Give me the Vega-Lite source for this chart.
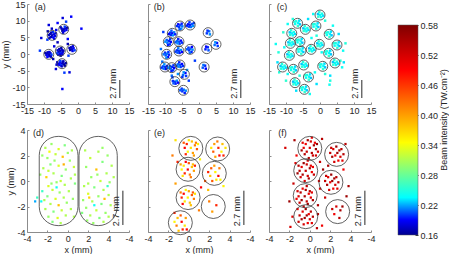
{
"$schema":"https://vega.github.io/schema/vega-lite/v6.json",
"background":"white",
"padding":{"left":1,"right":0,"top":0,"bottom":0},
"config":{
"view":{"stroke":null},
"font":"Liberation Sans",
"locale":{"number":{"decimal":".","thousands":",","grouping":[3],"currency":["$",""],"minus":"-"}},
"axis":{"grid":false,"domainColor":"#8c8c8c","tickColor":"#8c8c8c","tickSize":-2,"labelPadding":4,"labelColor":"#262626","titleColor":"#262626","labelFontSize":9,"titleFontSize":9,"titleFontWeight":"normal","labelFlush":false,"labelOverlap":false},
"axisX":{"titlePadding":2},
"axisY":{"titlePadding":1},
"text":{"font":"Liberation Sans","fontSize":9,"color":"#262626"}
},
"datasets":{
"a":[{"x":-7.6,"y":5.6,"v":0.17},{"x":-7.1,"y":5.9,"v":0.18},{"x":-8.2,"y":6.0,"v":0.175},{"x":-7.3,"y":5.0,"v":0.19},{"x":-8.0,"y":5.1,"v":0.165},{"x":-6.7,"y":5.4,"v":0.185},{"x":-8.6,"y":5.7,"v":0.172},{"x":-7.4,"y":6.6,"v":0.2},{"x":-7.9,"y":6.4,"v":0.17},{"x":-6.6,"y":6.2,"v":0.18},{"x":-8.4,"y":4.8,"v":0.175},{"x":-7.0,"y":4.6,"v":0.19},{"x":-8.9,"y":6.8,"v":0.165},{"x":-6.4,"y":7.2,"v":0.185},{"x":-7.7,"y":7.6,"v":0.172},{"x":-9.0,"y":4.3,"v":0.2},
{"x":-4.2,"y":7.4,"v":0.17},{"x":-3.7,"y":7.7,"v":0.18},{"x":-4.8,"y":7.6,"v":0.175},{"x":-4.0,"y":6.9,"v":0.19},{"x":-4.6,"y":7.0,"v":0.165},{"x":-3.4,"y":7.2,"v":0.185},{"x":-5.1,"y":8.0,"v":0.172},{"x":-3.9,"y":8.2,"v":0.2},{"x":-3.2,"y":7.9,"v":0.17},{"x":-4.4,"y":6.4,"v":0.18},
{"x":-1.8,"y":1.4,"v":0.175},{"x":-1.3,"y":1.7,"v":0.19},{"x":-2.3,"y":1.2,"v":0.165},{"x":-1.6,"y":0.9,"v":0.185},{"x":-2.0,"y":2.0,"v":0.172},{"x":-1.0,"y":1.1,"v":0.2},{"x":-2.5,"y":1.8,"v":0.17},{"x":-1.5,"y":2.3,"v":0.18},
{"x":-8.6,"y":-0.1,"v":0.17},{"x":-8.1,"y":0.2,"v":0.18},{"x":-9.1,"y":0.1,"v":0.175},{"x":-8.7,"y":-0.6,"v":0.19},{"x":-8.3,"y":-0.5,"v":0.165},{"x":-9.3,"y":-0.3,"v":0.185},{"x":-8.9,"y":0.5,"v":0.172},{"x":-7.8,"y":-0.2,"v":0.2},{"x":-9.6,"y":0.3,"v":0.17},{"x":-8.4,"y":0.6,"v":0.18},{"x":-8.0,"y":-0.8,"v":0.175},{"x":-9.0,"y":-0.9,"v":0.19},
{"x":-5.2,"y":0.9,"v":0.165},{"x":-4.7,"y":1.2,"v":0.185},{"x":-5.7,"y":0.6,"v":0.172},{"x":-5.0,"y":0.3,"v":0.2},{"x":-5.5,"y":1.5,"v":0.17},{"x":-4.5,"y":0.5,"v":0.18},{"x":-6.0,"y":1.1,"v":0.175},{"x":-5.3,"y":0.0,"v":0.19},{"x":-4.9,"y":1.8,"v":0.165},{"x":-5.8,"y":-0.2,"v":0.185},{"x":-4.3,"y":1.0,"v":0.172},{"x":-6.1,"y":0.2,"v":0.2},{"x":-5.1,"y":-0.5,"v":0.17},{"x":-4.6,"y":-0.1,"v":0.18},
{"x":-4.7,"y":-2.9,"v":0.175},{"x":-5.3,"y":-2.6,"v":0.19},{"x":-4.1,"y":-3.1,"v":0.165},{"x":-5.8,"y":-3.0,"v":0.185},{"x":-4.5,"y":-2.4,"v":0.172},{"x":-5.0,"y":-3.4,"v":0.2},{"x":-3.6,"y":-2.7,"v":0.17},{"x":-6.1,"y":-2.5,"v":0.18},{"x":-4.8,"y":-3.7,"v":0.175},{"x":-5.5,"y":-3.3,"v":0.19},{"x":-3.9,"y":-3.5,"v":0.165},{"x":-6.3,"y":-3.2,"v":0.185},{"x":-4.3,"y":-2.2,"v":0.172},{"x":-5.2,"y":-2.1,"v":0.2},
{"x":-4.5,"y":10.8,"v":0.18},{"x":-2.0,"y":11.2,"v":0.19},{"x":-3.5,"y":9.7,"v":0.2},{"x":1.0,"y":7.6,"v":0.19},{"x":-10.8,"y":4.8,"v":0.18},{"x":-11.2,"y":1.0,"v":0.2},{"x":-6.0,"y":3.5,"v":0.17},{"x":-7.0,"y":2.3,"v":0.18},{"x":-3.0,"y":4.5,"v":0.19},{"x":-4.0,"y":-5.6,"v":0.2},{"x":-2.5,"y":-5.5,"v":0.18},{"x":-4.6,"y":-10.5,"v":0.19},{"x":-7.3,"y":-1.5,"v":0.17},{"x":-2.8,"y":-0.5,"v":0.2},{"x":-8.6,"y":8.7,"v":0.18},{"x":-6.0,"y":9.3,"v":0.19},{"x":-3.0,"y":3.0,"v":0.17},{"x":-6.5,"y":-4.5,"v":0.18}],
"ca":[{"x":-4.2,"y":7.4},{"x":-7.6,"y":5.6},{"x":-1.8,"y":1.4},{"x":-8.6,"y":-0.1},{"x":-5.2,"y":0.9},{"x":-4.7,"y":-2.9}],
"b":[{"x":-2.6,"y":8.7,"v":0.195},{"x":-2.0,"y":9.0,"v":0.205},{"x":-3.2,"y":8.9,"v":0.19},{"x":-2.4,"y":8.1,"v":0.21},{"x":-3.0,"y":8.2,"v":0.2},{"x":-1.7,"y":8.4,"v":0.215},{"x":-2.8,"y":9.5,"v":0.198},{"x":-3.6,"y":8.5,"v":0.195},
{"x":-5.5,"y":8.6,"v":0.205},{"x":-6.1,"y":8.9,"v":0.19},{"x":-4.9,"y":8.3,"v":0.21},{"x":-5.9,"y":8.1,"v":0.2},{"x":-5.2,"y":7.6,"v":0.215},{"x":-6.5,"y":8.4,"v":0.198},{"x":-5.1,"y":9.1,"v":0.195},{"x":-5.7,"y":7.4,"v":0.205},
{"x":-7.9,"y":6.2,"v":0.19},{"x":-7.3,"y":6.5,"v":0.21},{"x":-8.5,"y":6.4,"v":0.2},{"x":-7.7,"y":5.6,"v":0.215},{"x":-8.3,"y":5.7,"v":0.198},{"x":-7.0,"y":5.9,"v":0.195},{"x":-8.1,"y":7.0,"v":0.205},{"x":-8.9,"y":6.0,"v":0.19},
{"x":3.0,"y":6.8,"v":0.21},{"x":2.3,"y":6.2,"v":0.2},{"x":3.2,"y":5.9,"v":0.215},{"x":2.5,"y":7.0,"v":0.198},
{"x":-8.9,"y":3.9,"v":0.195},{"x":-9.5,"y":4.2,"v":0.205},{"x":-8.3,"y":3.6,"v":0.19},{"x":-9.3,"y":3.4,"v":0.21},{"x":-8.6,"y":2.9,"v":0.2},{"x":-9.9,"y":3.7,"v":0.215},{"x":-8.5,"y":4.4,"v":0.198},{"x":-9.1,"y":2.7,"v":0.195},
{"x":-5.9,"y":3.7,"v":0.205},{"x":-5.3,"y":4.0,"v":0.19},{"x":-6.5,"y":3.9,"v":0.21},{"x":-5.7,"y":3.1,"v":0.2},{"x":-6.3,"y":3.2,"v":0.215},{"x":-5.0,"y":3.4,"v":0.198},{"x":-6.1,"y":4.5,"v":0.195},{"x":-6.9,"y":3.5,"v":0.205},
{"x":5.3,"y":3.3,"v":0.19},{"x":4.6,"y":2.7,"v":0.21},{"x":5.5,"y":2.4,"v":0.2},{"x":4.8,"y":3.5,"v":0.215},
{"x":2.6,"y":2.0,"v":0.198},{"x":1.9,"y":1.4,"v":0.195},{"x":2.8,"y":1.1,"v":0.205},{"x":2.1,"y":2.2,"v":0.19},
{"x":-2.5,"y":1.6,"v":0.21},{"x":-3.1,"y":1.9,"v":0.2},{"x":-1.9,"y":1.3,"v":0.215},{"x":-2.9,"y":1.1,"v":0.198},{"x":-2.2,"y":0.6,"v":0.195},{"x":-3.5,"y":1.4,"v":0.205},{"x":-2.1,"y":2.1,"v":0.19},{"x":-2.7,"y":0.4,"v":0.21},
{"x":-5.9,"y":0.9,"v":0.2},{"x":-5.3,"y":1.2,"v":0.215},{"x":-6.5,"y":1.1,"v":0.198},{"x":-5.7,"y":0.3,"v":0.195},{"x":-6.3,"y":0.4,"v":0.205},{"x":-5.0,"y":0.6,"v":0.19},{"x":-6.1,"y":1.7,"v":0.21},{"x":-6.9,"y":0.7,"v":0.2},
{"x":-9.4,"y":0.1,"v":0.215},{"x":-10.0,"y":0.4,"v":0.198},{"x":-8.8,"y":-0.2,"v":0.195},{"x":-9.8,"y":-0.4,"v":0.205},{"x":-9.1,"y":-0.9,"v":0.19},{"x":-10.4,"y":-0.1,"v":0.21},{"x":-9.0,"y":0.6,"v":0.2},{"x":-9.6,"y":-1.1,"v":0.215},
{"x":-10.0,"y":-3.9,"v":0.198},{"x":-9.4,"y":-3.6,"v":0.195},{"x":-10.6,"y":-3.7,"v":0.205},{"x":-9.8,"y":-4.5,"v":0.19},{"x":-10.4,"y":-4.4,"v":0.21},{"x":-9.1,"y":-4.2,"v":0.2},{"x":-10.2,"y":-3.1,"v":0.215},{"x":-11.0,"y":-4.1,"v":0.198},
{"x":-7.9,"y":-3.9,"v":0.195},{"x":-8.5,"y":-3.6,"v":0.205},{"x":-7.3,"y":-4.2,"v":0.19},{"x":-8.3,"y":-4.4,"v":0.21},{"x":-7.6,"y":-4.9,"v":0.2},{"x":-8.9,"y":-4.1,"v":0.215},{"x":-7.5,"y":-3.4,"v":0.198},{"x":-8.1,"y":-5.1,"v":0.195},
{"x":-5.6,"y":-3.3,"v":0.205},{"x":-5.0,"y":-3.0,"v":0.19},{"x":-6.2,"y":-3.1,"v":0.21},{"x":-5.4,"y":-3.9,"v":0.2},{"x":-6.0,"y":-3.8,"v":0.215},{"x":-4.7,"y":-3.6,"v":0.198},{"x":-5.8,"y":-2.5,"v":0.195},{"x":-6.6,"y":-3.5,"v":0.205},
{"x":-4.0,"y":-5.7,"v":0.19},{"x":-4.7,"y":-6.3,"v":0.21},{"x":-3.8,"y":-6.6,"v":0.2},{"x":-4.5,"y":-5.5,"v":0.215},{"x":-4.9,"y":-6.9,"v":0.198},
{"x":1.8,"y":-3.5,"v":0.195},{"x":1.1,"y":-4.1,"v":0.205},{"x":2.0,"y":-4.4,"v":0.19},{"x":1.3,"y":-3.3,"v":0.21},
{"x":-7.1,"y":-8.3,"v":0.2},{"x":-6.5,"y":-8.0,"v":0.215},{"x":-7.7,"y":-8.1,"v":0.198},{"x":-6.9,"y":-8.9,"v":0.195},{"x":-7.5,"y":-8.8,"v":0.205},{"x":-6.2,"y":-8.6,"v":0.19},
{"x":-4.5,"y":-10.7,"v":0.21},{"x":-5.1,"y":-10.4,"v":0.2},{"x":-3.9,"y":-11.0,"v":0.215},{"x":-4.9,"y":-11.2,"v":0.198},{"x":-4.2,"y":-11.7,"v":0.195},{"x":-5.5,"y":-10.9,"v":0.205},
{"x":-10.5,"y":6.6,"v":0.2},{"x":-8.0,"y":-6.5,"v":0.21},{"x":-7.8,"y":-7.0,"v":0.2},{"x":-3.5,"y":-4.8,"v":0.215},{"x":-1.2,"y":-2.0,"v":0.2},{"x":-11.2,"y":1.5,"v":0.21},{"x":-3.0,"y":-8.0,"v":0.2},{"x":-6.2,"y":-6.0,"v":0.215},{"x":-1.5,"y":9.3,"v":0.2},{"x":-10.8,"y":-2.3,"v":0.21}],
"cb":[{"x":-2.6,"y":8.7},{"x":-5.6,"y":8.4},{"x":-7.85,"y":6.2},{"x":2.7,"y":6.4},{"x":-9.0,"y":3.7},{"x":-5.9,"y":3.7},{"x":5.0,"y":2.9},{"x":2.3,"y":1.6},{"x":-2.6,"y":1.4},{"x":-5.9,"y":0.9},{"x":-9.5,"y":-0.1},{"x":-10.0,"y":-3.9},{"x":-8.0,"y":-4.1},{"x":-5.6,"y":-3.3},{"x":-4.3,"y":-6.1},{"x":1.5,"y":-3.9},{"x":-7.1,"y":-8.3},{"x":-4.6,"y":-10.9}],
"c":[{"x":0.0,"y":11.7,"v":0.235},{"x":0.6,"y":12.1,"v":0.245},{"x":-0.6,"y":12.0,"v":0.225},{"x":0.3,"y":11.1,"v":0.24},{"x":-0.5,"y":11.2,"v":0.255},{"x":0.9,"y":11.5,"v":0.23},{"x":-0.2,"y":12.6,"v":0.25},
{"x":-6.4,"y":9.3,"v":0.235},{"x":-7.0,"y":9.8,"v":0.245},{"x":-5.9,"y":8.9,"v":0.225},{"x":-7.3,"y":9.0,"v":0.24},{"x":-6.5,"y":8.4,"v":0.255},{"x":-6.1,"y":10.0,"v":0.23},{"x":-7.5,"y":9.7,"v":0.25},
{"x":-4.3,"y":7.4,"v":0.235},{"x":-3.7,"y":7.8,"v":0.245},{"x":-4.9,"y":7.7,"v":0.225},{"x":-4.0,"y":6.8,"v":0.24},{"x":-4.8,"y":6.9,"v":0.255},{"x":-3.4,"y":7.2,"v":0.23},{"x":-4.5,"y":8.3,"v":0.25},
{"x":-1.0,"y":8.5,"v":0.235},{"x":-1.6,"y":9.0,"v":0.245},{"x":-0.5,"y":8.1,"v":0.225},{"x":-1.9,"y":8.2,"v":0.24},{"x":-1.1,"y":7.6,"v":0.255},{"x":-0.7,"y":9.2,"v":0.23},{"x":-2.1,"y":8.9,"v":0.25},
{"x":-8.3,"y":6.2,"v":0.235},{"x":-7.7,"y":6.6,"v":0.245},{"x":-8.9,"y":6.5,"v":0.225},{"x":-8.0,"y":5.6,"v":0.24},{"x":-8.8,"y":5.7,"v":0.255},{"x":-7.4,"y":6.0,"v":0.23},{"x":-8.5,"y":7.1,"v":0.25},
{"x":2.9,"y":6.0,"v":0.235},{"x":2.3,"y":6.5,"v":0.245},{"x":3.4,"y":5.6,"v":0.225},{"x":2.0,"y":5.7,"v":0.24},{"x":2.8,"y":5.1,"v":0.255},{"x":3.2,"y":6.7,"v":0.23},{"x":1.8,"y":6.4,"v":0.25},
{"x":-8.7,"y":3.2,"v":0.235},{"x":-8.1,"y":3.6,"v":0.245},{"x":-9.3,"y":3.5,"v":0.225},{"x":-8.4,"y":2.6,"v":0.24},{"x":-9.2,"y":2.7,"v":0.255},{"x":-7.8,"y":3.0,"v":0.23},{"x":-8.9,"y":4.1,"v":0.25},
{"x":-5.7,"y":3.8,"v":0.235},{"x":-6.3,"y":4.3,"v":0.245},{"x":-5.2,"y":3.4,"v":0.225},{"x":-6.6,"y":3.5,"v":0.24},{"x":-5.8,"y":2.9,"v":0.255},{"x":-5.4,"y":4.5,"v":0.23},{"x":-6.8,"y":4.2,"v":0.25},
{"x":-0.2,"y":2.9,"v":0.235},{"x":0.4,"y":3.3,"v":0.245},{"x":-0.8,"y":3.2,"v":0.225},{"x":0.1,"y":2.3,"v":0.24},{"x":-0.7,"y":2.4,"v":0.255},{"x":0.7,"y":2.7,"v":0.23},{"x":-0.4,"y":3.8,"v":0.25},
{"x":5.2,"y":2.8,"v":0.235},{"x":4.6,"y":3.3,"v":0.245},{"x":5.7,"y":2.4,"v":0.225},{"x":4.3,"y":2.5,"v":0.24},{"x":5.1,"y":1.9,"v":0.255},{"x":5.5,"y":3.5,"v":0.23},{"x":4.1,"y":3.2,"v":0.25},
{"x":-9.0,"y":-0.4,"v":0.235},{"x":-8.4,"y":0.0,"v":0.245},{"x":-9.6,"y":-0.1,"v":0.225},{"x":-8.7,"y":-1.0,"v":0.24},{"x":-9.5,"y":-0.9,"v":0.255},{"x":-8.1,"y":-0.6,"v":0.23},{"x":-9.2,"y":0.5,"v":0.25},
{"x":-5.4,"y":1.0,"v":0.235},{"x":-6.0,"y":1.5,"v":0.245},{"x":-4.9,"y":0.6,"v":0.225},{"x":-6.3,"y":0.7,"v":0.24},{"x":-5.5,"y":0.1,"v":0.255},{"x":-5.1,"y":1.7,"v":0.23},{"x":-6.5,"y":1.4,"v":0.25},
{"x":-2.6,"y":1.4,"v":0.235},{"x":-2.0,"y":1.8,"v":0.245},{"x":-3.2,"y":1.7,"v":0.225},{"x":-2.3,"y":0.8,"v":0.24},{"x":-3.1,"y":0.9,"v":0.255},{"x":-1.7,"y":1.2,"v":0.23},{"x":-2.8,"y":2.3,"v":0.25},
{"x":2.7,"y":0.3,"v":0.235},{"x":2.1,"y":0.8,"v":0.245},{"x":3.2,"y":-0.1,"v":0.225},{"x":1.8,"y":0.0,"v":0.24},{"x":2.6,"y":-0.6,"v":0.255},{"x":3.0,"y":1.0,"v":0.23},{"x":1.6,"y":0.7,"v":0.25},
{"x":-11.0,"y":-3.9,"v":0.235},{"x":-10.4,"y":-3.5,"v":0.245},{"x":-11.6,"y":-3.6,"v":0.225},{"x":-10.7,"y":-4.5,"v":0.24},{"x":-11.5,"y":-4.4,"v":0.255},{"x":-10.1,"y":-4.1,"v":0.23},{"x":-11.2,"y":-3.0,"v":0.25},
{"x":-7.6,"y":-4.5,"v":0.235},{"x":-8.2,"y":-4.0,"v":0.245},{"x":-7.1,"y":-4.9,"v":0.225},{"x":-8.5,"y":-4.8,"v":0.24},{"x":-7.7,"y":-5.4,"v":0.255},{"x":-7.3,"y":-3.8,"v":0.23},{"x":-8.7,"y":-4.1,"v":0.25},
{"x":-4.8,"y":-3.3,"v":0.235},{"x":-4.2,"y":-2.9,"v":0.245},{"x":-5.4,"y":-3.0,"v":0.225},{"x":-4.5,"y":-3.9,"v":0.24},{"x":-5.3,"y":-3.8,"v":0.255},{"x":-3.9,"y":-3.5,"v":0.23},{"x":-5.0,"y":-2.4,"v":0.25},
{"x":1.0,"y":-3.6,"v":0.235},{"x":0.4,"y":-3.1,"v":0.245},{"x":1.5,"y":-4.0,"v":0.225},{"x":0.1,"y":-3.9,"v":0.24},{"x":0.9,"y":-4.5,"v":0.255},{"x":1.3,"y":-2.9,"v":0.23},{"x":-0.1,"y":-3.2,"v":0.25},
{"x":4.4,"y":-2.7,"v":0.235},{"x":5.0,"y":-2.3,"v":0.245},{"x":3.8,"y":-2.4,"v":0.225},{"x":4.7,"y":-3.3,"v":0.24},{"x":3.9,"y":-3.2,"v":0.255},{"x":5.3,"y":-2.9,"v":0.23},{"x":4.2,"y":-1.8,"v":0.25},
{"x":-3.2,"y":-6.8,"v":0.235},{"x":-3.8,"y":-6.3,"v":0.245},{"x":-2.7,"y":-7.2,"v":0.225},{"x":-4.1,"y":-7.1,"v":0.24},{"x":-3.3,"y":-7.7,"v":0.255},{"x":-2.9,"y":-6.1,"v":0.23},{"x":-4.3,"y":-6.4,"v":0.25},
{"x":-7.35,"y":-8.6,"v":0.235},{"x":-6.8,"y":-8.2,"v":0.245},{"x":-7.9,"y":-8.3,"v":0.225},{"x":-7.0,"y":-9.2,"v":0.24},{"x":-7.8,"y":-9.1,"v":0.255},{"x":-6.4,"y":-8.8,"v":0.23},{"x":-7.5,"y":-7.7,"v":0.25},
{"x":-4.4,"y":-10.5,"v":0.235},{"x":-5.0,"y":-10.0,"v":0.245},{"x":-3.9,"y":-10.9,"v":0.225},{"x":-5.3,"y":-10.8,"v":0.24},{"x":-4.5,"y":-11.4,"v":0.255},{"x":-4.1,"y":-9.8,"v":0.23},{"x":-5.5,"y":-10.1,"v":0.25},
{"x":-13.0,"y":3.0,"v":0.24},{"x":-12.2,"y":0.5,"v":0.25},{"x":-12.5,"y":-2.5,"v":0.23},{"x":-10.5,"y":2.0,"v":0.24},{"x":-10.8,"y":6.5,"v":0.255},{"x":-9.5,"y":9.0,"v":0.24},{"x":-8.0,"y":10.5,"v":0.25},{"x":-3.5,"y":10.5,"v":0.23},{"x":-2.0,"y":12.0,"v":0.24},{"x":1.5,"y":10.0,"v":0.25},{"x":3.8,"y":8.5,"v":0.24},{"x":5.5,"y":6.0,"v":0.23},{"x":7.5,"y":3.2,"v":0.25},{"x":6.8,"y":1.0,"v":0.24},{"x":6.0,"y":-2.0,"v":0.255},{"x":6.5,"y":-4.0,"v":0.24},{"x":3.0,"y":-6.5,"v":0.23},{"x":3.0,"y":-8.0,"v":0.25},{"x":2.8,"y":-9.2,"v":0.24},{"x":1.5,"y":-6.0,"v":0.25},{"x":-1.5,"y":-5.5,"v":0.24},{"x":-1.0,"y":-9.0,"v":0.23},{"x":-6.0,"y":-6.5,"v":0.25},{"x":-9.5,"y":-6.0,"v":0.24},{"x":-10.0,"y":-8.0,"v":0.255},{"x":-3.0,"y":-12.0,"v":0.24},{"x":-7.0,"y":-11.0,"v":0.23},{"x":-1.0,"y":5.5,"v":0.25},{"x":0.5,"y":0.5,"v":0.24},{"x":-12.0,"y":-5.5,"v":0.25},{"x":-2.5,"y":4.8,"v":0.24},{"x":7.0,"y":-2.5,"v":0.23}],
"cc":[{"x":0.0,"y":11.7},{"x":-6.6,"y":9.2},{"x":-4.3,"y":7.4},{"x":-1.2,"y":8.4},{"x":-8.3,"y":6.2},{"x":2.7,"y":5.9},{"x":-8.7,"y":3.2},{"x":-5.9,"y":3.7},{"x":-0.2,"y":2.9},{"x":5.0,"y":2.7},{"x":-9.0,"y":-0.4},{"x":-5.6,"y":0.9},{"x":-2.6,"y":1.4},{"x":2.55,"y":0.2},{"x":-11.0,"y":-3.9},{"x":-7.85,"y":-4.6},{"x":-4.8,"y":-3.3},{"x":0.8,"y":-3.7},{"x":4.4,"y":-2.7},{"x":-3.4,"y":-6.9},{"x":-7.35,"y":-8.6},{"x":-4.6,"y":-10.6}],
"d":[{"x":-2.2,"y":2.6,"v":0.31},{"x":-1.6,"y":2.9,"v":0.30},{"x":-0.9,"y":2.5,"v":0.33},{"x":-0.3,"y":2.8,"v":0.29},{"x":0.4,"y":2.4,"v":0.31},{"x":-1.2,"y":2.1,"v":0.32},{"x":-2.0,"y":1.8,"v":0.30},{"x":-0.5,"y":1.9,"v":0.38},{"x":0.2,"y":1.6,"v":0.30},{"x":-1.7,"y":1.3,"v":0.29},
{"x":-2.4,"y":1.0,"v":0.31},{"x":-0.9,"y":1.2,"v":0.33},{"x":-0.2,"y":0.9,"v":0.30},{"x":0.6,"y":1.1,"v":0.32},{"x":-1.4,"y":0.6,"v":0.31},{"x":-2.1,"y":0.3,"v":0.37},{"x":-0.6,"y":0.4,"v":0.29},{"x":0.3,"y":0.2,"v":0.31},{"x":-1.1,"y":-0.1,"v":0.30},{"x":-1.9,"y":-0.4,"v":0.33},
{"x":-0.3,"y":-0.3,"v":0.31},{"x":0.7,"y":-0.2,"v":0.29},{"x":-2.5,"y":-0.8,"v":0.26},{"x":-1.5,"y":-0.7,"v":0.32},{"x":-0.8,"y":-0.9,"v":0.30},{"x":0.1,"y":-0.8,"v":0.31},{"x":-2.0,"y":-1.2,"v":0.29},{"x":-1.2,"y":-1.4,"v":0.33},{"x":-0.4,"y":-1.3,"v":0.31},{"x":0.5,"y":-1.4,"v":0.30},
{"x":-2.6,"y":-1.6,"v":0.24},{"x":-1.7,"y":-1.8,"v":0.31},{"x":-0.9,"y":-1.9,"v":0.38},{"x":-0.1,"y":-1.7,"v":0.30},{"x":-2.2,"y":-2.2,"v":0.31},{"x":-1.4,"y":-2.4,"v":0.29},{"x":-0.6,"y":-2.3,"v":0.32},{"x":0.3,"y":-2.2,"v":0.31},{"x":-1.9,"y":-2.8,"v":0.30},{"x":-1.0,"y":-2.9,"v":0.33},
{"x":-0.2,"y":-2.7,"v":0.31},{"x":-1.5,"y":-3.2,"v":0.29},{"x":-0.7,"y":-3.3,"v":0.31},{"x":0.0,"y":2.2,"v":0.30},{"x":-1.8,"y":2.3,"v":0.34},{"x":-2.5,"y":2.0,"v":0.30},{"x":0.7,"y":0.5,"v":0.31},{"x":-1.3,"y":1.6,"v":0.30},{"x":-0.7,"y":0.0,"v":0.32},{"x":-1.6,"y":-0.2,"v":0.30},
{"x":-3.2,"y":-1.6,"v":0.22},{"x":-3.0,"y":-1.3,"v":0.26},{"x":-2.3,"y":-1.5,"v":0.31},{"x":-1.1,"y":-0.5,"v":0.24},{"x":0.6,"y":-2.8,"v":0.31},{"x":-0.4,"y":1.3,"v":0.39},{"x":-2.7,"y":0.5,"v":0.30},{"x":-1.9,"y":0.8,"v":0.32},
{"x":3.0,"y":2.3,"v":0.31},{"x":3.9,"y":2.0,"v":0.30},{"x":2.2,"y":1.8,"v":0.32},{"x":3.4,"y":1.5,"v":0.29},{"x":4.3,"y":1.2,"v":0.31},{"x":1.8,"y":1.1,"v":0.30},{"x":2.8,"y":0.9,"v":0.38},{"x":3.8,"y":0.6,"v":0.31},{"x":2.3,"y":0.3,"v":0.30},{"x":3.2,"y":0.0,"v":0.32},
{"x":4.1,"y":-0.1,"v":0.30},{"x":1.6,"y":-0.4,"v":0.31},{"x":2.6,"y":-0.5,"v":0.29},{"x":3.5,"y":-0.7,"v":0.31},{"x":2.0,"y":-1.0,"v":0.33},{"x":3.0,"y":-1.2,"v":0.30},{"x":4.0,"y":-1.1,"v":0.31},{"x":1.5,"y":-1.5,"v":0.30},{"x":2.4,"y":-1.6,"v":0.31},{"x":3.3,"y":-1.8,"v":0.29},
{"x":4.2,"y":-1.9,"v":0.31},{"x":1.8,"y":-2.1,"v":0.30},{"x":2.8,"y":-2.3,"v":0.32},{"x":3.7,"y":-2.5,"v":0.30},{"x":2.2,"y":-2.7,"v":0.31},{"x":3.1,"y":-2.9,"v":0.29},{"x":4.0,"y":-2.8,"v":0.31},{"x":1.9,"y":-3.1,"v":0.30},{"x":2.6,"y":-1.9,"v":0.24},{"x":3.6,"y":-1.4,"v":0.38},
{"x":2.0,"y":-0.2,"v":0.31},{"x":2.9,"y":0.5,"v":0.30},{"x":4.5,"y":0.3,"v":0.31},{"x":3.4,"y":2.6,"v":0.30},{"x":1.7,"y":2.4,"v":0.31},{"x":2.5,"y":-3.3,"v":0.30},{"x":3.5,"y":-3.2,"v":0.31},{"x":2.1,"y":-1.3,"v":0.37},{"x":1.4,"y":-2.5,"v":0.29},{"x":3.9,"y":-0.4,"v":0.26}],
"e":[{"x":0.2,"y":2.6,"v":0.36},{"x":0.6,"y":2.8,"v":0.42},{"x":-0.2,"y":2.9,"v":0.47},{"x":0.4,"y":2.2,"v":0.40},{"x":-0.1,"y":2.3,"v":0.35},{"x":0.8,"y":2.5,"v":0.44},{"x":-0.4,"y":2.6,"v":0.49},{"x":0.3,"y":3.1,"v":0.38},{"x":0.0,"y":3.2,"v":0.36},{"x":0.7,"y":3.0,"v":0.42},{"x":-0.3,"y":2.1,"v":0.47},{"x":0.5,"y":2.0,"v":0.40},{"x":0.9,"y":2.9,"v":0.35},{"x":-0.5,"y":3.0,"v":0.44},
{"x":-0.1,"y":0.9,"v":0.49},{"x":0.3,"y":1.1,"v":0.38},{"x":-0.5,"y":1.2,"v":0.36},{"x":0.1,"y":0.5,"v":0.42},{"x":-0.4,"y":0.6,"v":0.47},{"x":0.5,"y":0.8,"v":0.40},{"x":-0.7,"y":0.9,"v":0.35},{"x":0.0,"y":1.4,"v":0.44},{"x":-0.3,"y":1.5,"v":0.49},{"x":0.4,"y":1.3,"v":0.38},{"x":-0.6,"y":0.4,"v":0.36},{"x":0.2,"y":0.3,"v":0.42},{"x":0.6,"y":1.2,"v":0.47},{"x":-0.8,"y":1.3,"v":0.40},
{"x":-0.1,"y":-1.3,"v":0.35},{"x":0.3,"y":-1.1,"v":0.44},{"x":-0.5,"y":-1.0,"v":0.49},{"x":0.1,"y":-1.7,"v":0.38},{"x":-0.4,"y":-1.6,"v":0.36},{"x":0.5,"y":-1.4,"v":0.42},{"x":-0.7,"y":-1.3,"v":0.47},{"x":0.0,"y":-0.8,"v":0.40},{"x":-0.3,"y":-0.7,"v":0.35},{"x":0.4,"y":-0.9,"v":0.44},{"x":-0.6,"y":-1.8,"v":0.49},{"x":0.2,"y":-1.9,"v":0.38},{"x":0.6,"y":-1.0,"v":0.36},{"x":-0.8,"y":-0.9,"v":0.42},
{"x":2.9,"y":2.6,"v":0.47},{"x":2.5,"y":2.9,"v":0.40},{"x":3.2,"y":2.3,"v":0.35},{"x":2.4,"y":2.3,"v":0.44},{"x":3.0,"y":2.0,"v":0.49},{"x":3.3,"y":2.9,"v":0.38},{"x":2.2,"y":2.6,"v":0.36},{"x":2.8,"y":3.1,"v":0.42},{"x":3.4,"y":2.0,"v":0.47},{"x":2.6,"y":1.9,"v":0.40},
{"x":2.6,"y":0.7,"v":0.35},{"x":2.2,"y":1.0,"v":0.44},{"x":2.9,"y":0.4,"v":0.49},{"x":2.1,"y":0.4,"v":0.38},{"x":2.7,"y":0.1,"v":0.36},{"x":3.0,"y":1.0,"v":0.42},{"x":1.9,"y":0.7,"v":0.47},{"x":2.5,"y":1.2,"v":0.40},{"x":3.1,"y":0.1,"v":0.35},{"x":2.3,"y":0.0,"v":0.44},
{"x":-0.7,"y":-3.2,"v":0.49},{"x":-1.1,"y":-2.9,"v":0.38},{"x":-0.4,"y":-3.5,"v":0.36},{"x":-1.2,"y":-3.5,"v":0.42},{"x":-0.6,"y":-3.8,"v":0.47},{"x":-0.3,"y":-2.9,"v":0.40},{"x":-1.4,"y":-3.2,"v":0.35},{"x":-0.8,"y":-2.7,"v":0.44},{"x":-0.2,"y":-3.8,"v":0.49},{"x":-1.0,"y":-3.9,"v":0.38},
{"x":2.0,"y":-1.6,"v":0.42},{"x":2.7,"y":-1.9,"v":0.47},{"x":2.3,"y":-2.4,"v":0.40},
{"x":-1.3,"y":3.2,"v":0.36},{"x":-1.6,"y":2.0,"v":0.42},{"x":-1.1,"y":1.5,"v":0.47},{"x":1.1,"y":1.7,"v":0.35},{"x":1.6,"y":0.0,"v":0.44},{"x":1.9,"y":-0.7,"v":0.38},{"x":1.2,"y":-0.5,"v":0.49},{"x":-1.3,"y":-0.2,"v":0.40},{"x":3.6,"y":2.6,"v":0.36},{"x":1.0,"y":-2.3,"v":0.42},{"x":-1.4,"y":-2.5,"v":0.47},{"x":3.4,"y":-0.4,"v":0.35}],
"ce":[{"x":0.2,"y":2.56},{"x":2.83,"y":2.51},{"x":-0.07,"y":0.92},{"x":2.5,"y":0.6},{"x":-0.07,"y":-1.3},{"x":2.4,"y":-2.0},{"x":-0.83,"y":-3.27}],
"f":[{"x":0.0,"y":2.6,"v":0.52},{"x":0.4,"y":2.8,"v":0.55},{"x":-0.4,"y":2.9,"v":0.50},{"x":0.2,"y":2.2,"v":0.54},{"x":-0.3,"y":2.3,"v":0.53},{"x":0.6,"y":2.5,"v":0.56},{"x":-0.6,"y":2.6,"v":0.51},{"x":0.1,"y":3.1,"v":0.52},{"x":-0.2,"y":3.2,"v":0.55},{"x":0.5,"y":3.0,"v":0.50},{"x":-0.5,"y":2.1,"v":0.54},{"x":0.3,"y":2.0,"v":0.53},{"x":0.7,"y":2.9,"v":0.56},{"x":-0.7,"y":3.0,"v":0.51},{"x":0.8,"y":2.3,"v":0.52},{"x":-0.8,"y":2.4,"v":0.55},{"x":0.2,"y":3.4,"v":0.50},{"x":-0.1,"y":1.8,"v":0.54},
{"x":-0.4,"y":0.8,"v":0.53},{"x":0.0,"y":1.0,"v":0.56},{"x":-0.8,"y":1.1,"v":0.51},{"x":-0.2,"y":0.4,"v":0.52},{"x":-0.7,"y":0.5,"v":0.55},{"x":0.2,"y":0.7,"v":0.50},{"x":-1.0,"y":0.8,"v":0.54},{"x":-0.3,"y":1.3,"v":0.53},{"x":-0.6,"y":1.4,"v":0.56},{"x":0.1,"y":1.2,"v":0.51},{"x":-0.9,"y":0.3,"v":0.52},{"x":-0.1,"y":0.2,"v":0.55},{"x":0.3,"y":1.1,"v":0.50},{"x":-1.1,"y":1.2,"v":0.54},{"x":0.4,"y":0.5,"v":0.53},{"x":-1.2,"y":0.6,"v":0.56},{"x":-0.2,"y":1.6,"v":0.51},{"x":-0.5,"y":0.0,"v":0.52},
{"x":-0.5,"y":-1.2,"v":0.55},{"x":-0.1,"y":-1.0,"v":0.50},{"x":-0.9,"y":-0.9,"v":0.54},{"x":-0.3,"y":-1.6,"v":0.53},{"x":-0.8,"y":-1.5,"v":0.56},{"x":0.1,"y":-1.3,"v":0.51},{"x":-1.1,"y":-1.2,"v":0.52},{"x":-0.4,"y":-0.7,"v":0.55},{"x":-0.7,"y":-0.6,"v":0.50},{"x":0.0,"y":-0.8,"v":0.54},{"x":-1.0,"y":-1.7,"v":0.53},{"x":-0.2,"y":-1.8,"v":0.56},{"x":0.2,"y":-0.9,"v":0.51},{"x":-1.2,"y":-0.8,"v":0.52},{"x":0.3,"y":-1.5,"v":0.55},{"x":-1.3,"y":-1.4,"v":0.50},{"x":-0.3,"y":-0.4,"v":0.54},{"x":-0.6,"y":-2.0,"v":0.53},
{"x":2.7,"y":2.2,"v":0.56},{"x":2.3,"y":2.5,"v":0.51},{"x":3.0,"y":1.9,"v":0.52},{"x":2.2,"y":1.9,"v":0.55},{"x":2.8,"y":1.6,"v":0.50},{"x":3.1,"y":2.5,"v":0.54},{"x":2.0,"y":2.2,"v":0.53},{"x":2.6,"y":2.7,"v":0.56},{"x":3.2,"y":1.6,"v":0.51},{"x":2.4,"y":1.5,"v":0.52},{"x":2.9,"y":2.4,"v":0.55},{"x":2.5,"y":2.0,"v":0.50},{"x":3.3,"y":2.1,"v":0.54},{"x":2.1,"y":2.6,"v":0.53},
{"x":2.2,"y":0.0,"v":0.56},{"x":1.8,"y":0.3,"v":0.51},{"x":2.5,"y":-0.3,"v":0.52},{"x":1.7,"y":-0.3,"v":0.55},{"x":2.3,"y":-0.6,"v":0.50},{"x":2.6,"y":0.3,"v":0.54},{"x":1.5,"y":0.0,"v":0.53},{"x":2.1,"y":0.5,"v":0.56},{"x":2.7,"y":-0.6,"v":0.51},{"x":1.9,"y":-0.7,"v":0.52},{"x":2.4,"y":0.2,"v":0.55},{"x":2.0,"y":-0.1,"v":0.50},{"x":2.8,"y":-0.1,"v":0.54},{"x":1.6,"y":0.4,"v":0.53},
{"x":-0.3,"y":-2.7,"v":0.56},{"x":-0.7,"y":-2.4,"v":0.51},{"x":0.0,"y":-3.0,"v":0.52},{"x":-0.8,"y":-3.0,"v":0.55},{"x":-0.2,"y":-3.3,"v":0.50},{"x":0.1,"y":-2.4,"v":0.54},{"x":-1.0,"y":-2.7,"v":0.53},{"x":-0.4,"y":-2.2,"v":0.56},{"x":0.2,"y":-3.3,"v":0.51},{"x":-0.6,"y":-3.4,"v":0.52},{"x":-0.5,"y":-2.9,"v":0.55},{"x":-0.1,"y":-2.6,"v":0.50},{"x":0.3,"y":-2.8,"v":0.54},{"x":-1.1,"y":-3.2,"v":0.53},
{"x":2.6,"y":-2.0,"v":0.52},{"x":3.0,"y":-2.3,"v":0.55},{"x":2.4,"y":-2.6,"v":0.50},{"x":2.9,"y":-2.9,"v":0.54},{"x":2.2,"y":-2.2,"v":0.53},{"x":3.2,"y":-2.0,"v":0.56},
{"x":-2.4,"y":2.6,"v":0.52},{"x":-1.5,"y":3.2,"v":0.55},{"x":-1.3,"y":2.0,"v":0.50},{"x":1.2,"y":3.3,"v":0.54},{"x":1.0,"y":1.5,"v":0.53},{"x":1.3,"y":0.9,"v":0.56},{"x":0.9,"y":0.0,"v":0.51},{"x":1.0,"y":-0.6,"v":0.52},{"x":3.8,"y":-0.4,"v":0.55},{"x":3.3,"y":0.9,"v":0.50},{"x":3.5,"y":2.9,"v":0.54},{"x":-1.6,"y":-0.2,"v":0.53},{"x":-2.0,"y":-1.6,"v":0.56},{"x":-1.7,"y":-2.8,"v":0.51},{"x":-1.9,"y":-3.6,"v":0.52},{"x":0.8,"y":-1.9,"v":0.55},{"x":1.2,"y":-3.5,"v":0.50},{"x":0.7,"y":-3.7,"v":0.54},{"x":1.5,"y":-1.3,"v":0.53},{"x":3.6,"y":-1.2,"v":0.56},{"x":-1.4,"y":1.4,"v":0.51},{"x":0.6,"y":2.0,"v":0.52},{"x":1.8,"y":1.2,"v":0.55},{"x":-1.2,"y":-2.2,"v":0.50},{"x":0.8,"y":-2.6,"v":0.54}],
"cf":[{"x":0.0,"y":2.56},{"x":2.63,"y":2.09},{"x":-0.4,"y":0.81},{"x":2.07,"y":-0.1},{"x":-0.45,"y":-1.15},{"x":2.73,"y":-2.4},{"x":-0.4,"y":-2.8}]
},
"hconcat":[
{"concat":[
{"width":102,"height":100,
"encoding":{"x":{"field":"x","type":"quantitative","scale":{"domain":[-15,15],"nice":false,"zero":false},"axis":{"values":[-15,-10,-5,0,5,10,15],"title":null}},"y":{"field":"y","type":"quantitative","scale":{"domain":[-15,15],"nice":false,"zero":false},"axis":{"values":[-15,-10,-5,0,5,10,15],"title":"y (mm)"}}},
"layer":[
{"data":{"name":"a"},"mark":{"type":"square","size":6,"opacity":1},"encoding":{"color":{"field":"v","type":"quantitative","scale":{"domain":[0.16,0.19,0.235,0.345,0.49,0.58],"range":["#00008f","#0000ff","#00ffff","#ffff00","#ff0000","#800000"],"interpolate":"rgb"},"legend":null}}},
{"data":{"name":"ca"},"mark":{"type":"point","shape":"circle","filled":false,"size":100,"stroke":"#3a3a3a","strokeWidth":0.8,"opacity":1}},
{"data":{"values":[{"x":12.3,"y":-7.8,"y2":-13.2}]},"mark":{"type":"rule","color":"#262626","strokeWidth":1},"encoding":{"y2":{"field":"y2"}}},
{"data":{"values":[{"x":11.9,"y":-13.4}]},"mark":{"type":"text","text":"2.7 mm","angle":270,"align":"left","baseline":"bottom"}},
{"data":{"values":[{"x":-12.7,"y":14.1}]},"mark":{"type":"text","text":"(a)","align":"left","baseline":"middle"}}
]},
{"width":102,"height":100,
"encoding":{"x":{"field":"x","type":"quantitative","scale":{"domain":[-15,15],"nice":false,"zero":false},"axis":{"values":[-15,-10,-5,0,5,10,15],"title":null}},"y":{"field":"y","type":"quantitative","scale":{"domain":[-15,15],"nice":false,"zero":false},"axis":{"values":[-15,-10,-5,0,5,10,15],"labels":false,"title":null}}},
"layer":[
{"data":{"name":"b"},"mark":{"type":"square","size":6,"opacity":1},"encoding":{"color":{"field":"v","type":"quantitative","legend":null}}},
{"data":{"name":"cb"},"mark":{"type":"point","shape":"circle","filled":false,"size":100,"stroke":"#3a3a3a","strokeWidth":0.8,"opacity":1}},
{"data":{"values":[{"x":12.3,"y":-7.8,"y2":-13.2}]},"mark":{"type":"rule","color":"#262626","strokeWidth":1},"encoding":{"y2":{"field":"y2"}}},
{"data":{"values":[{"x":11.9,"y":-13.4}]},"mark":{"type":"text","text":"2.7 mm","angle":270,"align":"left","baseline":"bottom"}},
{"data":{"values":[{"x":-13.3,"y":14.1}]},"mark":{"type":"text","text":"(b)","align":"left","baseline":"middle"}}
]},
{"width":102,"height":100,
"encoding":{"x":{"field":"x","type":"quantitative","scale":{"domain":[-15,15],"nice":false,"zero":false},"axis":{"values":[-15,-10,-5,0,5,10,15],"title":null}},"y":{"field":"y","type":"quantitative","scale":{"domain":[-15,15],"nice":false,"zero":false},"axis":{"values":[-15,-10,-5,0,5,10,15],"labels":false,"title":null}}},
"layer":[
{"data":{"name":"c"},"mark":{"type":"square","size":6,"opacity":1},"encoding":{"color":{"field":"v","type":"quantitative","legend":null}}},
{"data":{"name":"cc"},"mark":{"type":"point","shape":"circle","filled":false,"size":100,"stroke":"#3a3a3a","strokeWidth":0.8,"opacity":1}},
{"data":{"values":[{"x":12.3,"y":-7.8,"y2":-13.2}]},"mark":{"type":"rule","color":"#262626","strokeWidth":1},"encoding":{"y2":{"field":"y2"}}},
{"data":{"values":[{"x":11.9,"y":-13.4}]},"mark":{"type":"text","text":"2.7 mm","angle":270,"align":"left","baseline":"bottom"}},
{"data":{"values":[{"x":-12.7,"y":14.1}]},"mark":{"type":"text","text":"(c)","align":"left","baseline":"middle"}}
]},
{"width":102,"height":102,
"encoding":{"x":{"field":"x","type":"quantitative","scale":{"domain":[-4,6],"nice":false,"zero":false},"axis":{"values":[-4,-2,0,2,4,6],"labelExpr":"datum.value == 6 ? '-4' : datum.label","title":"x (mm)"}},"y":{"field":"y","type":"quantitative","scale":{"domain":[-4,4],"nice":false,"zero":false},"axis":{"values":[-4,-2,0,2,4],"title":"y (mm)"}}},
"layer":[
{"data":{"name":"d"},"mark":{"type":"square","size":5,"opacity":1},"encoding":{"color":{"field":"v","type":"quantitative","legend":null}}},
{"data":{"values":[{"x":-2.8,"x2":1.0,"y":-3.5,"y2":3.5},{"x":1.1,"x2":4.85,"y":-3.5,"y2":3.5}]},"mark":{"type":"rect","fillOpacity":0,"stroke":"#3a3a3a","strokeWidth":0.8,"cornerRadius":19},"encoding":{"x2":{"field":"x2"},"y2":{"field":"y2"}}},
{"data":{"values":[{"x":5.4,"y":-0.76,"y2":-3.45}]},"mark":{"type":"rule","color":"#262626","strokeWidth":1},"encoding":{"y2":{"field":"y2"}}},
{"data":{"values":[{"x":5.25,"y":-3.55}]},"mark":{"type":"text","text":"2.7 mm","angle":270,"align":"left","baseline":"bottom"}},
{"data":{"values":[{"x":-3.4,"y":3.8}]},"mark":{"type":"text","text":"(d)","align":"left","baseline":"middle"}}
]},
{"width":102,"height":102,
"encoding":{"x":{"field":"x","type":"quantitative","scale":{"domain":[-4,6],"nice":false,"zero":false},"axis":{"values":[-4,-2,0,2,4,6],"labelExpr":"datum.value == 6 ? '-4' : datum.label","title":"x (mm)"}},"y":{"field":"y","type":"quantitative","scale":{"domain":[-4,4],"nice":false,"zero":false},"axis":{"values":[-4,-2,0,2,4],"labels":false,"title":null}}},
"layer":[
{"data":{"name":"e"},"mark":{"type":"square","size":5,"opacity":1},"encoding":{"color":{"field":"v","type":"quantitative","legend":null}}},
{"data":{"name":"ce"},"mark":{"type":"point","shape":"circle","filled":false,"size":576,"stroke":"#3a3a3a","strokeWidth":0.8,"opacity":1}},
{"data":{"values":[{"x":5.4,"y":-0.76,"y2":-3.45}]},"mark":{"type":"rule","color":"#262626","strokeWidth":1},"encoding":{"y2":{"field":"y2"}}},
{"data":{"values":[{"x":5.25,"y":-3.55}]},"mark":{"type":"text","text":"2.7 mm","angle":270,"align":"left","baseline":"bottom"}},
{"data":{"values":[{"x":-3.4,"y":3.8}]},"mark":{"type":"text","text":"(e)","align":"left","baseline":"middle"}}
]},
{"width":102,"height":102,
"encoding":{"x":{"field":"x","type":"quantitative","scale":{"domain":[-4,6],"nice":false,"zero":false},"axis":{"values":[-4,-2,0,2,4,6],"labelExpr":"datum.value == 6 ? '-4' : datum.label","title":"x (mm)"}},"y":{"field":"y","type":"quantitative","scale":{"domain":[-4,4],"nice":false,"zero":false},"axis":{"values":[-4,-2,0,2,4],"labels":false,"title":null}}},
"layer":[
{"data":{"name":"f"},"mark":{"type":"square","size":5,"opacity":1},"encoding":{"color":{"field":"v","type":"quantitative","legend":null}}},
{"data":{"name":"cf"},"mark":{"type":"point","shape":"circle","filled":false,"size":576,"stroke":"#3a3a3a","strokeWidth":0.8,"opacity":1}},
{"data":{"values":[{"x":5.4,"y":-0.76,"y2":-3.45}]},"mark":{"type":"rule","color":"#262626","strokeWidth":1},"encoding":{"y2":{"field":"y2"}}},
{"data":{"values":[{"x":5.25,"y":-3.55}]},"mark":{"type":"text","text":"2.7 mm","angle":270,"align":"left","baseline":"bottom"}},
{"data":{"values":[{"x":-3.1,"y":3.8}]},"mark":{"type":"text","text":"(f)","align":"left","baseline":"middle"}}
]}
],"columns":3,"bounds":"flush","spacing":{"row":26,"column":19}},
{"width":20,"height":231,
"data":{"values":[{"lo":0.16,"hi":0.58}]},
"mark":{"type":"rect","stroke":"#555555","strokeWidth":0.5,"fill":{"gradient":"linear","x1":0,"y1":1,"x2":0,"y2":0,"stops":[{"offset":0,"color":"#00008f"},{"offset":0.0714,"color":"#0000ff"},{"offset":0.1786,"color":"#00ffff"},{"offset":0.4405,"color":"#ffff00"},{"offset":0.7857,"color":"#ff0000"},{"offset":1,"color":"#800000"}]}},
"encoding":{"y":{"field":"lo","type":"quantitative","scale":{"domain":[0.16,0.622],"nice":false,"zero":false},"axis":{"orient":"right","values":[0.16,0.22,0.28,0.34,0.40,0.46,0.52,0.58],"format":".2f","title":"Beam intensity (TW.cm⁻²)","titleAngle":270,"titleBaseline":"top","titlePadding":2,"domain":false,"tickSize":-3,"tickColor":"#333333","labelPadding":5}},"y2":{"field":"hi"}}}
],
"spacing":20
}
